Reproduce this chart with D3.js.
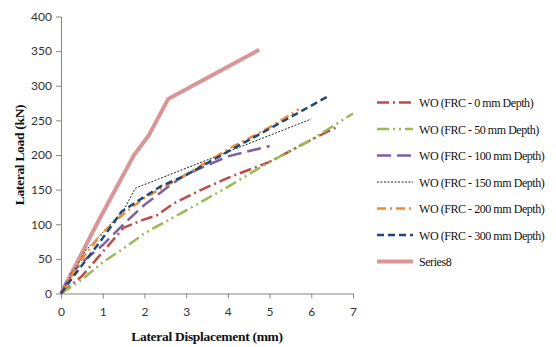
<!DOCTYPE html>
<html>
<head>
<meta charset="utf-8">
<script src="https://cdn.jsdelivr.net/npm/d3@7"></script>
<style>
  body { margin: 0; background: #fff; }
  .tick text { font-family: Lato, "Open Sans", sans-serif; font-size: 12px; fill: #333; }
  .axis path, .axis line { stroke: #868686; }
  .title { font-family: "Liberation Serif", serif; font-weight: bold; font-size: 13.5px; letter-spacing: -0.3px; fill: #111; }
  .legend text { font-family: "Liberation Serif", serif; font-size: 12px; letter-spacing: -0.45px; fill: #111; }
</style>
</head>
<body>
<div id="chart"></div>
<script>
// series names
var names = ["WO (FRC - 0 mm Depth)", "WO (FRC - 50 mm Depth)", "WO (FRC - 100 mm Depth)",
    "WO (FRC - 150 mm Depth)", "WO (FRC - 200 mm Depth)", "WO (FRC - 300 mm Depth)", "Series8"];

// displacement (mm) / load (kN) per series
var dispFrc0 = [0, 0.5, 1, 1.5, 2, 2.3, 2.7, 3.3, 4, 5, 6, 6.6];
var loadFrc0 = [0, 25, 60, 95, 107, 113, 130, 148, 167, 190, 222, 240];
var dispFrc50 = [0, 0.5, 1, 1.5, 2, 3, 4, 5, 6, 7];
var loadFrc50 = [0, 20, 45, 65, 87, 120, 154, 190, 222, 260];
var dispFrc100 = [0, 0.2, 0.5, 1, 1.5, 2, 2.7, 3, 4, 5];
var loadFrc100 = [0, 25, 45, 70, 100, 128, 160, 172, 198, 213];
var dispFrc150 = [0, 0.6, 1, 1.5, 1.78, 6];
var loadFrc150 = [0, 63, 88, 120, 152, 252];
var dispFrc200 = [0, 0.5, 1, 1.5, 2, 3, 4, 5, 5.7];
var loadFrc200 = [0, 50, 88, 115, 138, 172, 208, 240, 266];
var dispFrc300 = [0, 0.3, 0.75, 1, 1.45, 1.8, 2.4, 3, 4, 5, 6.38];
var loadFrc300 = [0, 25, 60, 80, 118, 132, 155, 171, 205, 238, 284];
var dispS8 = [0, 0.9, 1.75, 2.1, 2.57, 4.75];
var loadS8 = [0, 105, 200, 228, 281, 352];

var xTicks = [0, 1, 2, 3, 4, 5, 6, 7];
var yTicks = [0, 50, 100, 150, 200, 250, 300, 350, 400];

var colors = ["#BE4B48", "#98B954", "#7D60A0", "#222", "#F58A2C", "#1F497D", "#D99694"];
var dashes = ["12,4,2,4", "12,4,2,4,2,4", "14,6", "2,1.5", "9,4,2,4", "7,4", null];
var widths = [2.5, 2.5, 2.5, 1, 2.5, 2.5, 4];

var series = [
    d3.zip(dispFrc0, loadFrc0), d3.zip(dispFrc50, loadFrc50), d3.zip(dispFrc100, loadFrc100),
    d3.zip(dispFrc150, loadFrc150), d3.zip(dispFrc200, loadFrc200), d3.zip(dispFrc300, loadFrc300),
    d3.zip(dispS8, loadS8)
];

var svg = d3.select("#chart").append("svg")
    .attr("width", 556)
    .attr("height", 347);

var x = d3.scaleLinear().domain([0, 7]).range([61, 353]);
var y = d3.scaleLinear().domain([0, 400]).range([293.5, 16.5]);

svg.append("g")
    .attr("class", "axis")
    .attr("transform", "translate(0,293.5)")
    .call(d3.axisBottom(x).tickValues(xTicks).tickFormat(d3.format("d")).tickSize(5).tickSizeOuter(0))
    .selectAll("text").attr("dy", "1.2em");

svg.append("g")
    .attr("class", "axis")
    .attr("transform", "translate(61,0)")
    .call(d3.axisLeft(y).tickValues(yTicks).tickSize(5).tickSizeOuter(0))
    .selectAll("text").attr("x", -9);

var line = d3.line()
    .x(function (d) { return x(d[0]); })
    .y(function (d) { return y(d[1]); });

// draw series8 first so the rest sit over it
var order = [6, 0, 1, 2, 3, 4, 5];
order.forEach(function (i) {
    svg.append("path")
        .datum(series[i])
        .attr("d", line)
        .attr("fill", "none")
        .attr("stroke", colors[i])
        .attr("stroke-width", widths[i])
        .attr("stroke-dasharray", dashes[i]);
});

svg.append("text")
    .attr("class", "title")
    .attr("x", 207)
    .attr("y", 341)
    .attr("text-anchor", "middle")
    .text("Lateral Displacement (mm)");

svg.append("text")
    .attr("class", "title")
    .attr("transform", "translate(24,155) rotate(-90)")
    .attr("text-anchor", "middle")
    .text("Lateral Load  (kN)");

var legend = svg.append("g").attr("class", "legend");
names.forEach(function (n, i) {
    var ly = 102.5 + i * 26.5;
    legend.append("line")
        .attr("x1", 377).attr("x2", 413)
        .attr("y1", ly).attr("y2", ly)
        .attr("stroke", colors[i])
        .attr("stroke-width", widths[i])
        .attr("stroke-dasharray", dashes[i]);
    legend.append("text")
        .attr("x", 419)
        .attr("y", ly + 4.5)
        .text(n);
});
</script>
</body>
</html>
